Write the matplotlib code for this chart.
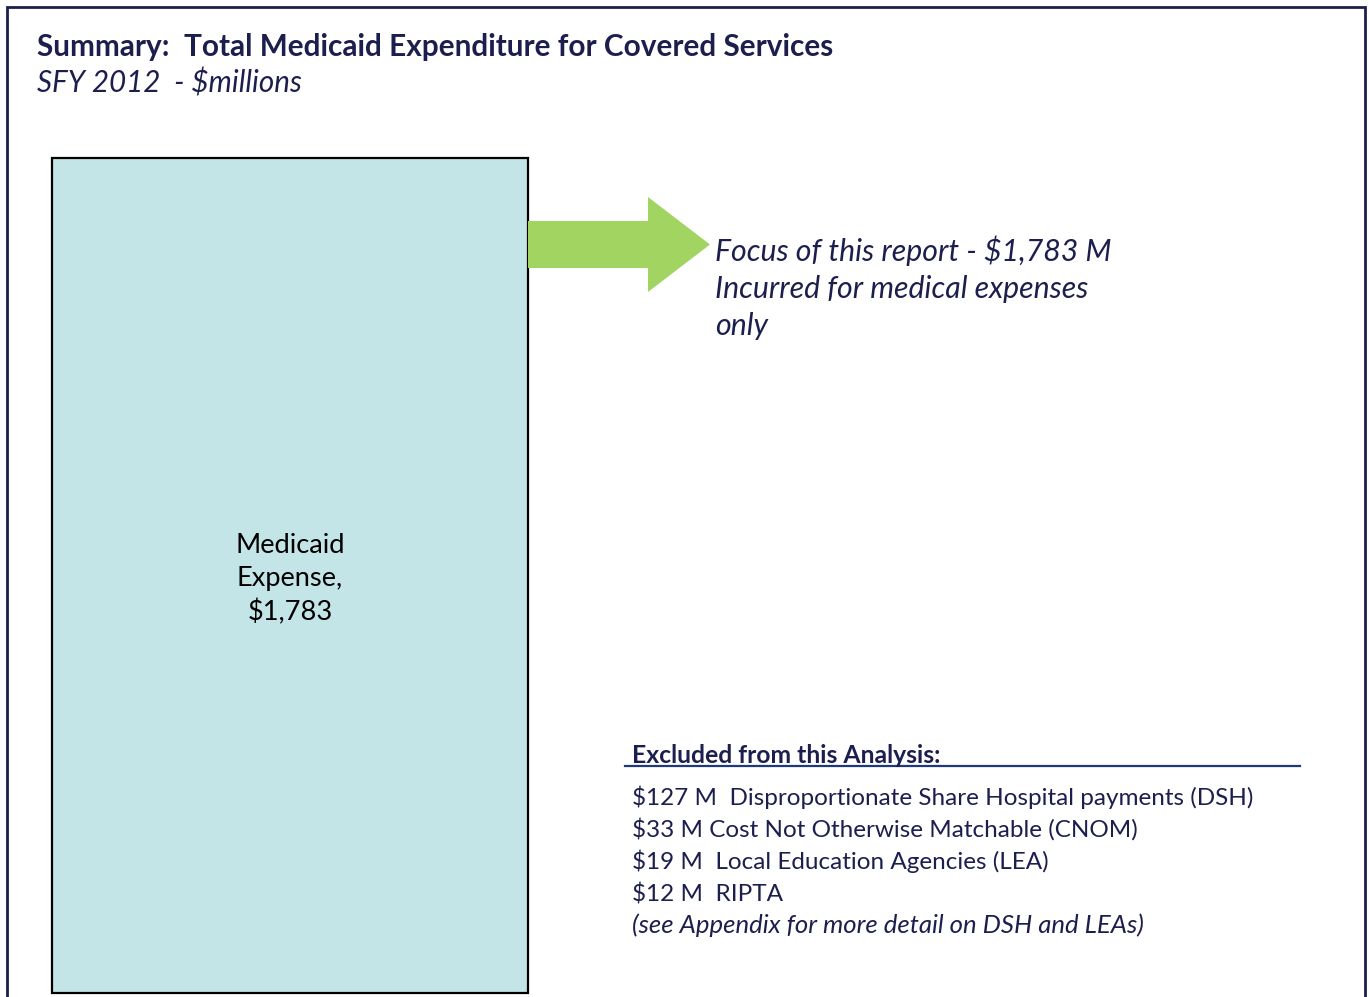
import matplotlib.pyplot as plt
from matplotlib.patches import FancyArrow

# --- datos ---
categorias = ['Medicaid Expense']
valores = [1783]
excluidosMonto = [127, 33, 19, 12]
excluidosNombre = ['Disproportionate Share Hospital payments (DSH)',
                   'Cost Not Otherwise Matchable (CNOM)',
                   'Local Education Agencies (LEA)',
                   'RIPTA']
excluidosSep = ['  ', ' ', '  ', '  ']

W, H = 1369, 997
navy = '#1c1f4e'
plt.rcParams['font.family'] = ['Lato', 'DejaVu Sans']

fig = plt.figure(figsize=(W / 100, H / 100), dpi=100)

# barra unica
axBar = fig.add_axes([52 / W, 1 - 993 / H, (528 - 52) / W, (993 - 158) / H])
axBar.bar(categorias, valores, width=1.0, color='#c4e5e7', edgecolor='black',
          linewidth=1.6, clip_on=False)
axBar.set_xlim(-0.5, 0.5)
axBar.set_ylim(0, max(valores))
axBar.axis('off')

# capa superior en pixeles
ax = fig.add_axes([0, 0, 1, 1], facecolor='none')
ax.set_xlim(0, W)
ax.set_ylim(H, 0)
ax.axis('off')

# marco
ax.plot([7, 7, 1365, 1365], [H + 5, 7, 7, H + 5], color=navy, lw=2.0,
        solid_joinstyle='miter')

ax.text(37, 56, 'Summary:  Total Medicaid Expenditure for Covered Services',
        fontsize=21.4, fontweight='bold', color=navy, va='baseline')
ax.text(37, 92, 'SFY 2012  - $millions', fontsize=21.3, style='italic',
        color=navy, va='baseline')

# flecha
ax.add_patch(FancyArrow(528, 244.5, 182, 0, width=47, head_width=95,
                        head_length=62, length_includes_head=True,
                        color='#a2d461', lw=0))

ax.text(715, 261, 'Focus of this report - $1,783 M', fontsize=21.8,
        style='italic', color=navy, va='baseline')
ax.text(715, 298, 'Incurred for medical expenses', fontsize=21.8,
        style='italic', color=navy, va='baseline')
ax.text(715, 335, 'only', fontsize=21.8, style='italic', color=navy,
        va='baseline')

# etiqueta de la barra
etiqueta = 'Medicaid\nExpense,\n${:,}'.format(valores[0])
ax.text(290, 579, etiqueta, fontsize=19.6, color='black', ha='center',
        va='center', linespacing=1.38)

# excluidos
ax.text(632, 763, 'Excluded from this Analysis:', fontsize=17.8,
        fontweight='bold', color=navy, va='baseline')
ax.plot([625, 1300], [766, 766], color='#1f3a7a', lw=1.6)
for i, (m, n, s) in enumerate(zip(excluidosMonto, excluidosNombre, excluidosSep)):
    ax.text(632, 805 + 32 * i, '${} M{}{}'.format(m, s, n), fontsize=17.5,
            color=navy, va='baseline')
ax.text(632, 933, '(see Appendix for more detail on DSH and LEAs)',
        fontsize=18.5, style='italic', color=navy, va='baseline')

fig.savefig('out.png', dpi=100)
